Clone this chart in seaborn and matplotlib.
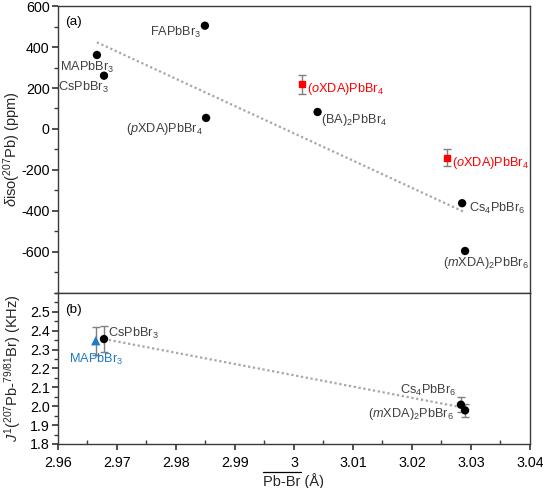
"""Two-panel chart: 207Pb isotropic shift and J-coupling vs mean Pb-Br distance."""

import matplotlib
matplotlib.use("Agg")

import matplotlib.pyplot as plt
import matplotlib.ticker as ticker
from matplotlib.lines import Line2D
import numpy as np
import pandas as pd
import seaborn as sns

# ── Data ─────────────────────────────────────────────────────────────────────
# (a) isotropic chemical shift, black points (used for the trend line)
shift_names = ["MAPbBr$_3$", "CsPbBr$_3$", "FAPbBr$_3$", "($\\it{p}$XDA)PbBr$_4$",
               "(BA)$_2$PbBr$_4$", "Cs$_4$PbBr$_6$", "($\\it{m}$XDA)$_2$PbBr$_6$"]
shift_x = [2.9666, 2.9678, 2.9849, 2.9851, 3.0040, 3.0285, 3.0290]
shift_y = [361, 260, 504, 54, 83, -362, -595]

# (a) (oXDA)PbBr4 sites, red squares with error bars
oxda_x = [3.0014, 3.0260]
oxda_y = [218, -140]
oxda_err = [45, 40]

# (b) J coupling, black points (trend line) + MAPbBr3 in blue
j_names = ["CsPbBr$_3$", "Cs$_4$PbBr$_6$", "($\\it{m}$XDA)$_2$PbBr$_6$"]
j_x = [2.9678, 3.0283, 3.0290]
j_y = [2.356, 2.008, 1.978]
j_err = [0.068, 0.04, 0.035]
ma_x = [2.9664]
ma_y = [2.347]
ma_err = [0.075]

shift_ticks = [-600, -400, -200, 0, 200, 400, 600]
j_ticks = [1.8, 1.9, 2.0, 2.1, 2.2, 2.3, 2.4, 2.5]

# label offsets in pixels (dx, dy, ha)
shift_offsets = [(-10, -12, "center"), (-21, -12, "center"), (-4, -7, "right"),
                 (-3, -11, "right"), (3, -8, "left"), (7, -5, "left"),
                 (21, -12, "center")]
j_offsets = [(4, 6, "left"), (-5, 14, "right"), (-11, -4, "right")]

# ── Style ────────────────────────────────────────────────────────────────────
sns.set_theme(style="ticks")
plt.rcParams["font.family"] = ["Liberation Sans", "DejaVu Sans"]
plt.rcParams["mathtext.fontset"] = "custom"
plt.rcParams["mathtext.rm"] = "Liberation Sans"
plt.rcParams["mathtext.it"] = "Liberation Sans:italic"
plt.rcParams["mathtext.bf"] = "Liberation Sans:bold"
plt.rcParams["axes.unicode_minus"] = False

TXT = "#404040"
SPINE = "#3a3a3a"
TREND = "#a6a6a6"
ERR = "#7f7f7f"
RED = "#ff0000"
BLUE = "#1f7bc8"
FS = 9.2
TICK_FS = 10.3
LABEL_FS = 10.5

fig = plt.figure(figsize=(5.43, 4.88), dpi=100)
ax_a = fig.add_axes([0.1068, 0.3996, 0.8692, 0.5881])
ax_b = fig.add_axes([0.1068, 0.0902, 0.8692, 0.3094], sharex=ax_a)


def style_axes(ax):
    for s in ax.spines.values():
        s.set_visible(True)
        s.set_color(SPINE)
        s.set_linewidth(1.0)
    ax.tick_params(axis="both", which="both", colors=SPINE, labelcolor="black",
                   labelsize=TICK_FS, pad=2)
    ax.tick_params(axis="y", which="major", direction="out", length=4)
    ax.tick_params(axis="y", which="minor", direction="out", length=3)


# ── (a) ──────────────────────────────────────────────────────────────────────
df_a = pd.DataFrame({"x": shift_x, "y": shift_y})
fit = np.polyfit(shift_x, shift_y, 1)
xs = np.array([min(shift_x), max(shift_x)])
ax_a.plot(xs, np.polyval(fit, xs), ls=(0, (1, 1.2)), lw=1.6, color=TREND, zorder=1)

sns.scatterplot(data=df_a, x="x", y="y", ax=ax_a, color="black", s=36,
                edgecolor="none", zorder=3, legend=False)
ax_a.errorbar(oxda_x, oxda_y, yerr=oxda_err, fmt="s", ms=5, color=RED,
              ecolor=ERR, elinewidth=1, capsize=3, capthick=1, zorder=3)

for name, x, y, (dx, dy, ha) in zip(shift_names, shift_x, shift_y, shift_offsets):
    ax_a.annotate(name, (x, y), xytext=(dx, dy), textcoords="offset pixels",
                  ha=ha, va="center", fontsize=FS, color=TXT)
for x, y in zip(oxda_x, oxda_y):
    ax_a.annotate("($\\it{o}$XDA)PbBr$_4$", (x, y), xytext=(5, -5),
                  textcoords="offset pixels", ha="left", va="center",
                  fontsize=FS, color=RED)

ax_a.set_ylim(-800, 600)
ax_a.yaxis.set_major_locator(ticker.FixedLocator(shift_ticks))
ax_a.yaxis.set_minor_locator(ticker.MultipleLocator(100))
ax_a.set_ylabel("$\\delta$iso($^{207}$Pb) (ppm)", fontsize=LABEL_FS)
ax_a.yaxis.set_label_coords(-0.074, 0.5)
ax_a.text(0.015, 0.965, "(a)", transform=ax_a.transAxes, ha="left", va="top",
          fontsize=FS + 0.5, color="black")
style_axes(ax_a)
ax_a.tick_params(axis="x", which="both", bottom=False, labelbottom=False)

# ── (b) ──────────────────────────────────────────────────────────────────────
df_b = pd.DataFrame({"x": j_x, "y": j_y})
fit_b = np.polyfit(j_x, j_y, 1)
xs_b = np.array([min(j_x), max(j_x)])
ax_b.plot(xs_b, np.polyval(fit_b, xs_b), ls=(0, (1, 1.2)), lw=1.6, color=TREND,
          zorder=1)

ax_b.errorbar(j_x, j_y, yerr=j_err, fmt="none", ecolor=ERR, elinewidth=1,
              capsize=3, capthick=1, zorder=2)
ax_b.errorbar(ma_x, ma_y, yerr=ma_err, fmt="none", ecolor=ERR, elinewidth=1,
              capsize=3, capthick=1, zorder=2)
sns.scatterplot(data=df_b, x="x", y="y", ax=ax_b, color="black", s=36,
                edgecolor="none", zorder=3, legend=False)
sns.scatterplot(x=ma_x, y=ma_y, ax=ax_b, color=BLUE, marker="^", s=45,
                edgecolor="none", zorder=3, legend=False)

for name, x, y, (dx, dy, ha) in zip(j_names, j_x, j_y, j_offsets):
    ax_b.annotate(name, (x, y), xytext=(dx, dy), textcoords="offset pixels",
                  ha=ha, va="center", fontsize=FS, color=TXT)
ax_b.annotate("MAPbBr$_3$", (ma_x[0], ma_y[0]), xytext=(0, -19),
              textcoords="offset pixels", ha="center", va="center",
              fontsize=FS, color=BLUE)

ax_b.set_ylim(1.8, 2.6)
ax_b.yaxis.set_major_locator(ticker.FixedLocator(j_ticks))
ax_b.yaxis.set_major_formatter(ticker.FormatStrFormatter("%.1f"))
ax_b.yaxis.set_minor_locator(ticker.MultipleLocator(0.05))
ax_b.set_ylabel("$\\it{J}^1$($^{207}$Pb-$^{79/81}$Br) (KHz)", fontsize=LABEL_FS)
ax_b.yaxis.set_label_coords(-0.074, 0.5)
ax_b.text(0.015, 0.93, "(b)", transform=ax_b.transAxes, ha="left", va="top",
          fontsize=FS + 0.5, color="black")

ax_b.set_xlim(2.96, 3.04)
ax_b.xaxis.set_major_locator(ticker.MultipleLocator(0.01))
ax_b.xaxis.set_minor_locator(ticker.MultipleLocator(0.005))
ax_b.xaxis.set_major_formatter(ticker.FuncFormatter(lambda v, p: f"{v:g}"))
ax_b.set_xlabel("Pb-Br (Å)", fontsize=LABEL_FS)
ax_b.xaxis.set_label_coords(0.5, -0.19)
style_axes(ax_b)
ax_b.tick_params(axis="x", which="major", direction="out", length=4, pad=5)
ax_b.tick_params(axis="x", which="minor", direction="in", length=3)

# overline over the "Pb-Br" part of the x label
fig.canvas.draw()
renderer = fig.canvas.get_renderer()
lab_box = ax_b.xaxis.label.get_window_extent(renderer)
probe = fig.text(0, 0, "Pb-Br", fontsize=LABEL_FS)
w = probe.get_window_extent(renderer).width
probe.remove()
y_line = lab_box.y1 + 0.5
fig.add_artist(Line2D([lab_box.x0 / fig.bbox.width, (lab_box.x0 + w) / fig.bbox.width],
                      [y_line / fig.bbox.height, y_line / fig.bbox.height],
                      transform=fig.transFigure, color="black", lw=0.9))

fig.savefig("out.png", dpi=100)
plt.close(fig)
